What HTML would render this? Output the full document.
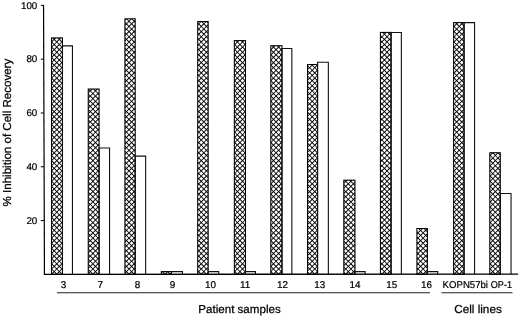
<!DOCTYPE html>
<html><head><meta charset="utf-8"><title>Inhibition of Cell Recovery</title>
<style>
html,body{margin:0;padding:0;background:#fff;}
body{width:520px;height:317px;overflow:hidden;}
svg{display:block;filter:blur(0.35px);}
text{text-rendering:geometricPrecision;font-family:"Liberation Sans",Arial,Helvetica,sans-serif;fill:#000;stroke:#000;stroke-width:0.25px;}
text.s{stroke-width:0.22px;}
</style></head><body>
<svg width="520" height="317" viewBox="0 0 520 317">
<rect width="520" height="317" fill="#fff"/>

<g transform="matrix(1 0 0.0 1 0 0)">
<defs><clipPath id="hb"><rect x="51.52" y="37.92" width="10.95" height="236.38"/><rect x="88.23" y="89.02" width="10.85" height="185.28"/><rect x="124.93" y="18.83" width="10.25" height="255.47"/><rect x="161.33" y="271.60" width="10.05" height="2.70"/><rect x="197.72" y="21.52" width="10.45" height="252.78"/><rect x="234.33" y="40.61" width="11.15" height="233.69"/><rect x="270.82" y="45.72" width="11.15" height="228.58"/><rect x="307.52" y="64.55" width="10.05" height="209.75"/><rect x="343.82" y="180.17" width="11.15" height="94.13"/><rect x="380.42" y="32.41" width="10.65" height="241.89"/><rect x="416.92" y="228.57" width="10.45" height="45.73"/><rect x="453.62" y="22.60" width="10.45" height="251.70"/><rect x="489.82" y="152.74" width="10.45" height="121.56"/></clipPath></defs>
<g fill="#000"><rect x="51.52" y="37.92" width="10.95" height="236.38"/><rect x="88.23" y="89.02" width="10.85" height="185.28"/><rect x="124.93" y="18.83" width="10.25" height="255.47"/><rect x="161.33" y="271.60" width="10.05" height="2.70"/><rect x="197.72" y="21.52" width="10.45" height="252.78"/><rect x="234.33" y="40.61" width="11.15" height="233.69"/><rect x="270.82" y="45.72" width="11.15" height="228.58"/><rect x="307.52" y="64.55" width="10.05" height="209.75"/><rect x="343.82" y="180.17" width="11.15" height="94.13"/><rect x="380.42" y="32.41" width="10.65" height="241.89"/><rect x="416.92" y="228.57" width="10.45" height="45.73"/><rect x="453.62" y="22.60" width="10.45" height="251.70"/><rect x="489.82" y="152.74" width="10.45" height="121.56"/></g>
<path clip-path="url(#hb)" d="M-91.27,133.84l379,379M-88.69,131.26l379,379M-86.11,128.68l379,379M-83.53,126.10l379,379M-80.95,123.52l379,379M-78.37,120.94l379,379M-75.79,118.36l379,379M-73.21,115.78l379,379M-70.63,113.20l379,379M-68.05,110.62l379,379M-65.47,108.04l379,379M-62.89,105.46l379,379M-60.31,102.88l379,379M-57.73,100.30l379,379M-55.15,97.72l379,379M-52.57,95.14l379,379M-49.99,92.56l379,379M-47.41,89.98l379,379M-44.83,87.40l379,379M-42.25,84.82l379,379M-39.67,82.24l379,379M-37.09,79.66l379,379M-34.51,77.08l379,379M-31.93,74.50l379,379M-29.35,71.92l379,379M-26.77,69.34l379,379M-24.19,66.76l379,379M-21.61,64.18l379,379M-19.03,61.60l379,379M-16.45,59.02l379,379M-13.87,56.44l379,379M-11.29,53.86l379,379M-8.71,51.28l379,379M-6.13,48.70l379,379M-3.55,46.12l379,379M-0.97,43.54l379,379M1.61,40.96l379,379M4.19,38.38l379,379M6.77,35.80l379,379M9.35,33.22l379,379M11.93,30.64l379,379M14.51,28.06l379,379M17.09,25.48l379,379M19.67,22.90l379,379M22.25,20.32l379,379M24.83,17.74l379,379M27.41,15.16l379,379M29.99,12.58l379,379M32.57,10.00l379,379M35.15,7.42l379,379M37.73,4.84l379,379M40.31,2.26l379,379M42.89,-0.32l379,379M45.47,-2.90l379,379M48.05,-5.48l379,379M50.63,-8.06l379,379M53.21,-10.64l379,379M55.79,-13.22l379,379M58.37,-15.80l379,379M60.95,-18.38l379,379M63.53,-20.96l379,379M66.11,-23.54l379,379M68.69,-26.12l379,379M71.27,-28.70l379,379M73.85,-31.28l379,379M76.43,-33.86l379,379M79.01,-36.44l379,379M81.59,-39.02l379,379M84.17,-41.60l379,379M86.75,-44.18l379,379M89.33,-46.76l379,379M91.91,-49.34l379,379M94.49,-51.92l379,379M97.07,-54.50l379,379M99.65,-57.08l379,379M102.23,-59.66l379,379M104.81,-62.24l379,379M107.39,-64.82l379,379M109.97,-67.40l379,379M112.55,-69.98l379,379M115.13,-72.56l379,379M117.71,-75.14l379,379M120.29,-77.72l379,379M122.87,-80.30l379,379M125.45,-82.88l379,379M128.03,-85.46l379,379M130.61,-88.04l379,379M133.19,-90.62l379,379M135.77,-93.20l379,379M138.35,-95.78l379,379M140.93,-98.36l379,379M143.51,-100.94l379,379M146.09,-103.52l379,379M148.67,-106.10l379,379M151.25,-108.68l379,379M153.83,-111.26l379,379M156.41,-113.84l379,379M158.99,-116.42l379,379M161.57,-119.00l379,379M164.15,-121.58l379,379M166.73,-124.16l379,379M169.31,-126.74l379,379M171.89,-129.32l379,379M174.47,-131.90l379,379M177.05,-134.48l379,379M179.63,-137.06l379,379M182.21,-139.64l379,379M184.79,-142.22l379,379M187.37,-144.80l379,379M189.95,-147.38l379,379M192.53,-149.96l379,379M195.11,-152.54l379,379M197.69,-155.12l379,379M200.27,-157.70l379,379M202.85,-160.28l379,379M205.43,-162.86l379,379M208.01,-165.44l379,379M210.59,-168.02l379,379M213.17,-170.60l379,379M215.75,-173.18l379,379M218.33,-175.76l379,379M220.91,-178.34l379,379M223.49,-180.92l379,379M226.07,-183.50l379,379M228.65,-186.08l379,379M231.23,-188.66l379,379M233.81,-191.24l379,379M236.39,-193.82l379,379M238.97,-196.40l379,379M241.55,-198.98l379,379" stroke="#fff" stroke-width="2.749" stroke-dasharray="2.7487 0.9000" fill="none"/>
<g fill="none" stroke="#000" stroke-width="1.05"><rect x="51.52" y="37.92" width="10.95" height="236.38"/><rect x="88.23" y="89.02" width="10.85" height="185.28"/><rect x="124.93" y="18.83" width="10.25" height="255.47"/><rect x="161.33" y="271.60" width="10.05" height="2.70"/><rect x="197.72" y="21.52" width="10.45" height="252.78"/><rect x="234.33" y="40.61" width="11.15" height="233.69"/><rect x="270.82" y="45.72" width="11.15" height="228.58"/><rect x="307.52" y="64.55" width="10.05" height="209.75"/><rect x="343.82" y="180.17" width="11.15" height="94.13"/><rect x="380.42" y="32.41" width="10.65" height="241.89"/><rect x="416.92" y="228.57" width="10.45" height="45.73"/><rect x="453.62" y="22.60" width="10.45" height="251.70"/><rect x="489.82" y="152.74" width="10.45" height="121.56"/></g>
<path d="M62.48,274.30V45.88H72.45V274.30M99.07,274.30V148.06H109.55V274.30M135.17,274.30V156.13H145.65V274.30M171.38,274.30V271.62H182.45V274.30M208.17,274.30V271.62H218.75V274.30M245.47,274.30V271.62H255.45V274.30M281.98,274.30V48.44H291.85V274.30M317.58,274.30V62.23H328.35V274.30M354.98,274.30V271.62H365.15V274.30M391.08,274.30V32.44H401.35V274.30M427.38,274.30V271.62H437.75V274.30M464.08,274.30V22.62H474.55V274.30M500.28,274.30V193.51H511.05V274.30" fill="none" stroke="#111" stroke-width="1.1"/>
<path d="M43.55,4.9 L44.45,274.90000000000003" stroke="#000" stroke-width="1.2" fill="none"/>
<path d="M43.9,274.40000000000003 L518.1,274.1" stroke="#000" stroke-width="1.3" fill="none"/>
<path d="M40.8,220.52 H44" stroke="#111" stroke-width="1.1"/>
<text x="37.3" y="223.77" font-size="9.8" class="s" text-anchor="end">20</text>
<path d="M40.8,166.74 H44" stroke="#111" stroke-width="1.1"/>
<text x="37.3" y="169.99" font-size="9.8" class="s" text-anchor="end">40</text>
<path d="M40.8,112.96 H44" stroke="#111" stroke-width="1.1"/>
<text x="37.3" y="116.21" font-size="9.8" class="s" text-anchor="end">60</text>
<path d="M40.8,59.18 H44" stroke="#111" stroke-width="1.1"/>
<text x="37.3" y="62.43" font-size="9.8" class="s" text-anchor="end">80</text>
<path d="M40.8,5.40 H44" stroke="#111" stroke-width="1.1"/>
<text x="37.3" y="8.65" font-size="9.8" class="s" text-anchor="end">100</text>
</g>
<text x="63.5" y="287.8" font-size="9.9" class="s" text-anchor="middle">3</text>
<text x="100.2" y="287.8" font-size="9.9" class="s" text-anchor="middle">7</text>
<text x="137.6" y="287.8" font-size="9.9" class="s" text-anchor="middle">8</text>
<text x="172.4" y="287.8" font-size="9.9" class="s" text-anchor="middle">9</text>
<text x="210.5" y="287.8" font-size="9.9" class="s" text-anchor="middle">10</text>
<text x="245.1" y="287.8" font-size="9.9" class="s" text-anchor="middle">11</text>
<text x="282.6" y="287.8" font-size="9.9" class="s" text-anchor="middle">12</text>
<text x="319.8" y="287.8" font-size="9.9" class="s" text-anchor="middle">13</text>
<text x="354.9" y="287.8" font-size="9.9" class="s" text-anchor="middle">14</text>
<text x="391.8" y="287.8" font-size="9.9" class="s" text-anchor="middle">15</text>
<text x="426.4" y="287.8" font-size="9.9" class="s" text-anchor="middle">16</text>
<text x="442.6" y="287.8" font-size="9.9" class="s" textLength="45.4" lengthAdjust="spacingAndGlyphs">KOPN57bi</text>
<text x="490.8" y="287.8" font-size="9.9" class="s" textLength="21.2" lengthAdjust="spacingAndGlyphs">OP-1</text>
<path d="M57,292.7 H430" stroke="#222" stroke-width="1.1"/>
<path d="M441.5,292.7 H512.5" stroke="#222" stroke-width="1.1"/>
<text x="198.3" y="312.9" font-size="11.5" textLength="82.4" lengthAdjust="spacingAndGlyphs">Patient samples</text>
<text x="454.2" y="312.9" font-size="11.5" textLength="47.6" lengthAdjust="spacingAndGlyphs">Cell lines</text>
<text transform="translate(11.1,206.4) rotate(-90)" font-size="11.5" textLength="147.6" lengthAdjust="spacingAndGlyphs">% Inhibition of Cell Recovery</text>
</svg></body></html>
